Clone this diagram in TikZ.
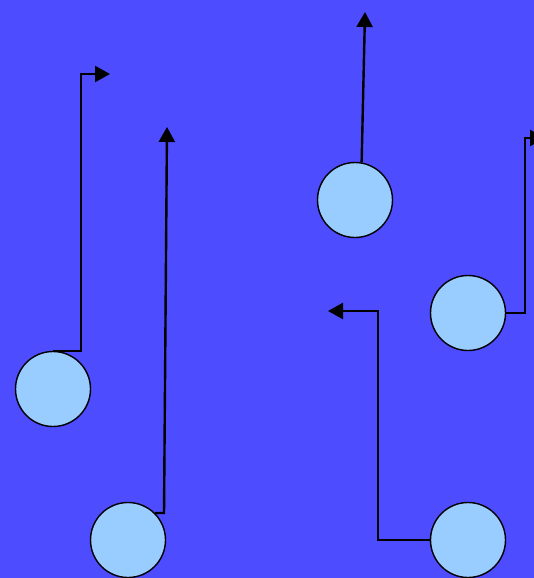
\documentclass[tikz,border=0pt]{standalone}
\usetikzlibrary{arrows.meta, positioning}
\definecolor{bgblue}{HTML}{4D4DFF}
\definecolor{ballblue}{HTML}{99CCFF}

\begin{document}
\begin{tikzpicture}[x=1pt, y=-1pt,
    ball/.style={circle, draw=black, line width=1.4pt, fill=ballblue,
                 minimum size=75pt, inner sep=0pt},
    wire/.style={draw=black, line width=2.4pt,
                 -{Triangle[length=15pt, width=16pt]}}]
    \fill[bgblue] (0,0) rectangle (534,578);
    \useasboundingbox (0,0) rectangle (534,578);
    % balls
    \node[ball] (b1) at (53,389) {};
    \node[ball] (b2) at (128,540) {};
    \node[ball] (b3) at (355,200) {};
    \node[ball] (b4) at (468,313) {};
    \node[ball] (b5) at (468,540) {};
    % arrow ends
    \coordinate (t1) at (110,74);
    \coordinate (t2) at (167,127);
    \coordinate (t3) at (365,12);
    \coordinate (t4) at (545,138);
    \coordinate (t5) at (328,311);
    % wires
    \draw[wire] (b1.north) -- ++(28,0) |- (t1);
    \draw[wire] (b2.45) -- ++(9,0) -- (t2);
    \draw[wire] (b3.80) -- (t3);
    \draw[wire] (b4.east) -- ++(19,0) |- (t4);
    \draw[wire] (b5.west) -- ++(-52,0) |- (t5);
\end{tikzpicture}
\end{document}
